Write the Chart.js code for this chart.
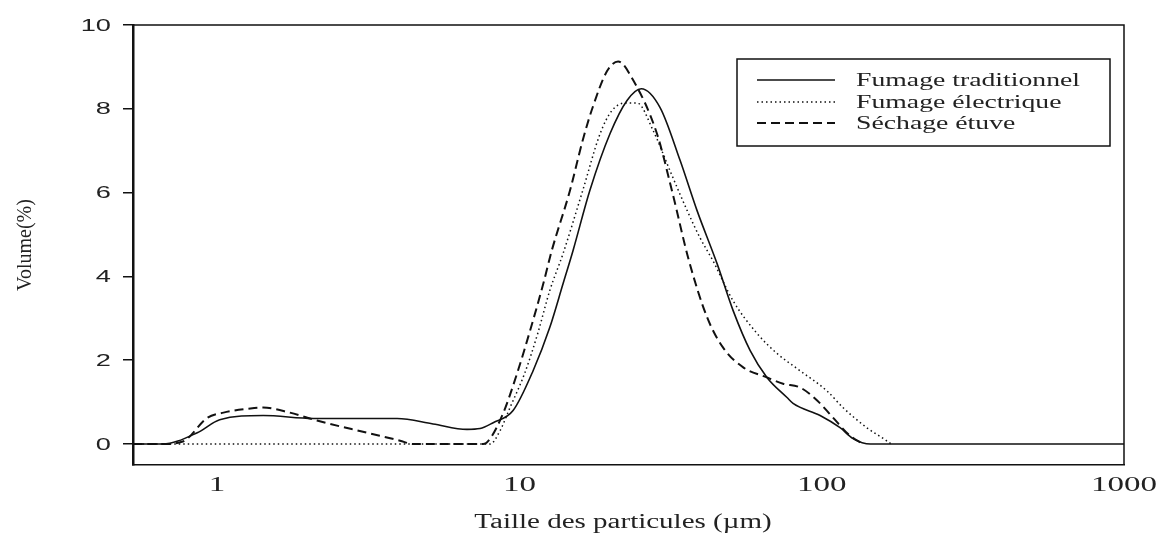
<!DOCTYPE html>
<html>
<head>
  <style>
    html, body {
      margin: 0;
      padding: 0;
      background: #fff;
      overflow: hidden;
    }

    #psdChart {
      display: block;
    }
  </style>
  <script src="https://cdn.jsdelivr.net/npm/chart.js"></script>
</head>
<body>
  <canvas id="psdChart" width="1157" height="538"></canvas>

  <script>
    // particle size (µm) and volume (%)
    const tradSize = [0.53, 0.66, 0.86, 1.02, 1.42, 2.08, 3.13, 3.94, 5.18, 6.71, 7.41, 8.19, 9.53, 11.1, 12.6, 13.95, 15.05, 17.1, 19.95, 22.7, 25.3, 29.2, 34.0, 38.7, 45.1, 50.9, 58.0, 65.9, 76.8, 80.4, 98.8, 115, 127, 145, 1000];
    const tradVolume = [0, 0, 0.27, 0.58, 0.68, 0.61, 0.61, 0.61, 0.48, 0.35, 0.37, 0.51, 0.80, 1.75, 2.78, 3.83, 4.62, 6.05, 7.41, 8.20, 8.48, 8.03, 6.77, 5.57, 4.30, 3.19, 2.23, 1.59, 1.11, 0.97, 0.68, 0.39, 0.13, 0, 0];

    const elecSize = [0.53, 8.0, 8.63, 9.31, 10.4, 11.5, 12.6, 13.95, 16.2, 18.5, 20.2, 22.4, 24.5, 27.7, 31.5, 35.9, 39.6, 43.7, 50.9, 61.1, 71.2, 82.9, 104, 118, 141, 160, 170];
    const elecVolume = [0, 0, 0.32, 0.87, 1.68, 2.64, 3.66, 4.55, 6.05, 7.41, 7.95, 8.14, 8.14, 7.48, 6.52, 5.57, 4.92, 4.37, 3.42, 2.64, 2.16, 1.80, 1.27, 0.86, 0.39, 0.13, 0];

    const etuveSize = [0.53, 0.66, 0.77, 0.93, 1.05, 1.29, 1.42, 1.74, 2.14, 3.13, 4.03, 4.45, 7.59, 8.0, 8.83, 9.82, 10.85, 12.0, 12.8, 14.7, 16.2, 17.5, 19.5, 21.2, 23.8, 28.5, 32.2, 36.3, 41.8, 47.2, 55.0, 65.9, 74.5, 84.8, 96.6, 109, 124, 137];
    const etuveVolume = [0, 0, 0.06, 0.63, 0.75, 0.85, 0.87, 0.75, 0.56, 0.27, 0.08, 0, 0, 0.13, 0.73, 1.68, 2.71, 3.83, 4.62, 6.05, 7.25, 8.05, 8.90, 9.13, 8.68, 7.41, 5.95, 4.40, 3.02, 2.30, 1.83, 1.59, 1.44, 1.35, 1.04, 0.63, 0.20, 0];

    const seriesLabels = ['Fumage traditionnel', 'Fumage électrique', 'Séchage étuve'];
    const xTicks = [1, 10, 100, 1000];
    const yTicks = [0, 2, 4, 6, 8, 10];
    const xTitle = 'Taille des particules (µm)';
    const yTitle = 'Volume(%)';

    const ink = '#111';

    function toPoints(xs, ys) {
      return xs.map((x, i) => ({ x: x, y: ys[i] }));
    }

    // the scanned figure is stretched sideways, so text gets drawn wide
    function wideText(ctx, text, x, y, font, stretch, align) {
      ctx.save();
      ctx.translate(x, y);
      ctx.scale(stretch, 1);
      ctx.font = font;
      ctx.fillStyle = '#222';
      ctx.textAlign = align;
      ctx.textBaseline = 'middle';
      ctx.fillText(text, 0, 0);
      ctx.restore();
    }

    const framePlugin = {
      id: 'frameAndText',
      afterDraw(chart) {
        const ctx = chart.ctx;
        const area = chart.chartArea;
        const xScale = chart.scales.x;
        const yScale = chart.scales.y;

        // top and right sides of the box
        ctx.save();
        ctx.strokeStyle = ink;
        ctx.lineWidth = 1.5;
        ctx.beginPath();
        ctx.moveTo(area.left, area.top);
        ctx.lineTo(area.right, area.top);
        ctx.lineTo(area.right, area.bottom);
        ctx.stroke();
        ctx.restore();

        yTicks.forEach(v => {
          wideText(ctx, String(v), 111, yScale.getPixelForValue(v) + 1, '17px "Liberation Sans"', 1.6, 'right');
        });
        xTicks.forEach(v => {
          wideText(ctx, String(v), xScale.getPixelForValue(v), 486, '20px "Liberation Serif"', 1.65, 'center');
        });

        wideText(ctx, xTitle, 623, 523, '20px "Liberation Serif"', 1.45, 'center');

        ctx.save();
        ctx.translate(25, (area.top + area.bottom) / 2);
        ctx.scale(1.1, 1);
        ctx.rotate(-Math.PI / 2);
        ctx.font = '20px "Liberation Serif"';
        ctx.fillStyle = '#222';
        ctx.textAlign = 'center';
        ctx.textBaseline = 'middle';
        ctx.fillText(yTitle, 0, 0);
        ctx.restore();

        // legend box
        const box = { left: 737, top: 59, right: 1110, bottom: 146 };
        ctx.save();
        ctx.fillStyle = '#fff';
        ctx.fillRect(box.left, box.top, box.right - box.left, box.bottom - box.top);
        ctx.strokeStyle = ink;
        ctx.lineWidth = 1.5;
        ctx.strokeRect(box.left, box.top, box.right - box.left, box.bottom - box.top);
        const rows = [80, 102, 123];
        chart.data.datasets.forEach((ds, i) => {
          ctx.save();
          ctx.strokeStyle = ds.borderColor;
          ctx.lineWidth = ds.borderWidth;
          ctx.setLineDash(ds.borderDash);
          ctx.beginPath();
          ctx.moveTo(757, rows[i]);
          ctx.lineTo(835, rows[i]);
          ctx.stroke();
          ctx.restore();
          wideText(ctx, ds.label, 856, rows[i] + 1, '18px "Liberation Serif"', 1.54, 'left');
        });
        ctx.restore();
      }
    };

    const ctx = document.getElementById('psdChart').getContext('2d');

    const psdChart = new Chart(ctx, {
      type: 'line',
      data: {
        datasets: [{
          label: seriesLabels[0],
          data: toPoints(tradSize, tradVolume),
          borderColor: ink,
          borderWidth: 1.6,
          borderDash: []
        }, {
          label: seriesLabels[1],
          data: toPoints(elecSize, elecVolume),
          borderColor: ink,
          borderWidth: 1.5,
          borderDash: [1.5, 3]
        }, {
          label: seriesLabels[2],
          data: toPoints(etuveSize, etuveVolume),
          borderColor: ink,
          borderWidth: 2,
          borderDash: [9, 5]
        }]
      },
      options: {
        responsive: false,
        animation: false,
        layout: {
          padding: { top: 25, right: 33, left: 0, bottom: 0 }
        },
        elements: {
          point: { radius: 0 },
          line: { fill: false, cubicInterpolationMode: 'monotone' }
        },
        scales: {
          x: {
            type: 'logarithmic',
            min: 0.527,
            max: 1000,
            afterBuildTicks: scale => {
              scale.ticks = xTicks.map(v => ({ value: v }));
            },
            afterFit: scale => {
              scale.height = 73;
            },
            ticks: { display: false },
            grid: { display: false },
            border: { display: true, color: ink, width: 1.5 }
          },
          y: {
            min: -0.5,
            max: 10,
            afterBuildTicks: scale => {
              scale.ticks = yTicks.map(v => ({ value: v }));
            },
            afterFit: scale => {
              scale.width = 133;
            },
            ticks: { display: false },
            grid: {
              drawOnChartArea: false,
              drawTicks: true,
              tickLength: 10,
              color: ink,
              lineWidth: 1.5
            },
            border: { display: true, color: ink, width: 2.5 }
          }
        },
        plugins: {
          legend: { display: false },
          tooltip: { enabled: false }
        }
      },
      plugins: [framePlugin]
    });
  </script>
</body>
</html>
